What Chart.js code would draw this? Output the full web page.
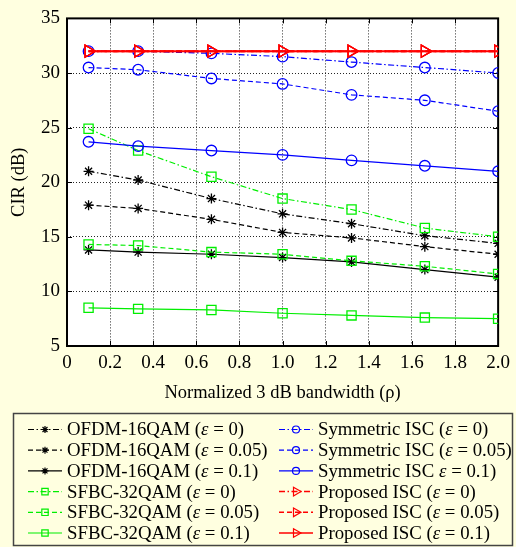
<!DOCTYPE html>
<html><head><meta charset="utf-8">
<script src="https://cdn.jsdelivr.net/npm/chart.js@4.4.1/dist/chart.umd.min.js"></script>
<style>html,body{margin:0;padding:0;background:#FFFFE0;}canvas{display:block;}</style>
</head><body>
<canvas id="c" width="516" height="547"></canvas>
<script>
// ---- data ----
const xValues = [0.1, 0.33, 0.67, 1.0, 1.32, 1.66, 2.0];
const xTickLabels = ['0','0.2','0.4','0.6','0.8','1.0','1.2','1.4','1.6','1.8','2.0'];
const yTickLabels = ['5','10','15','20','25','30','35'];
const xTitle = 'Normalized 3 dB bandwidth (ρ)';
const yTitle = 'CIR (dB)';

const ofdm0    = [21.0, 20.2, 18.5, 17.1, 16.2, 15.1, 14.4];
const ofdm005  = [17.9, 17.6, 16.6, 15.4, 14.9, 14.1, 13.4];
const ofdm01   = [13.8, 13.6, 13.4, 13.1, 12.7, 12.0, 11.3];
const sfbc0    = [24.9, 22.9, 20.5, 18.5, 17.5, 15.8, 15.0];
const sfbc005  = [14.3, 14.2, 13.6, 13.4, 12.8, 12.3, 11.6];
const sfbc01   = [8.5, 8.4, 8.3, 8.0, 7.8, 7.6, 7.5];
const sym0     = [32.0, 32.0, 31.8, 31.5, 31.0, 30.5, 30.0];
const sym005   = [30.5, 30.3, 29.5, 29.0, 28.0, 27.5, 26.5];
const sym01    = [23.7, 23.3, 22.9, 22.5, 22.0, 21.5, 21.0];
const prop0    = [32.0, 32.0, 32.0, 32.0, 32.0, 32.0, 32.0];
const prop005  = [32.0, 32.0, 32.0, 32.0, 32.0, 32.0, 32.0];
const prop01   = [32.0, 32.0, 32.0, 32.0, 32.0, 32.0, 32.0];

const seriesLabels = [
  'OFDM-16QAM (ε = 0)', 'OFDM-16QAM (ε = 0.05)', 'OFDM-16QAM (ε = 0.1)',
  'SFBC-32QAM (ε = 0)', 'SFBC-32QAM (ε = 0.05)', 'SFBC-32QAM (ε = 0.1)',
  'Symmetric ISC (ε = 0)', 'Symmetric ISC (ε = 0.05)', 'Symmetric ISC ε = 0.1)',
  'Proposed ISC (ε = 0)', 'Proposed ISC (ε = 0.05)', 'Proposed ISC (ε = 0.1)'
];
const seriesValues = [ofdm0, ofdm005, ofdm01, sfbc0, sfbc005, sfbc01, sym0, sym005, sym01, prop0, prop005, prop01];

// ---- styles ----
const FONT = '"Liberation Serif", "Times New Roman", serif';
const DASHDOT = [6, 2.5, 1.5, 2.5];
const DASHED = [5, 3];
const SOLID = [];
const styles = [
  {c:'#000000', d:DASHDOT, p:'star', r:5, w:1.2, o:3, lr:3.5},
  {c:'#000000', d:DASHED,  p:'star', r:5, w:1.2, o:3, lr:3.5},
  {c:'#000000', d:SOLID,   p:'star', r:5, w:1.2, o:3, lr:3.5},
  {c:'#00EE00', d:DASHDOT, p:'rect', r:6.5, w:1.2, o:2, lr:4.5},
  {c:'#00EE00', d:DASHED,  p:'rect', r:6.5, w:1.2, o:2, lr:4.5},
  {c:'#00EE00', d:SOLID,   p:'rect', r:6.5, w:1.2, o:2, lr:4.5},
  {c:'#0000FF', d:DASHDOT, p:'circle', r:5.3, w:1.2, o:1, lr:3.5},
  {c:'#0000FF', d:DASHED,  p:'circle', r:5.3, w:1.2, o:1, lr:3.5},
  {c:'#0000FF', d:SOLID,   p:'circle', r:5.3, w:1.3, o:1, lr:3.5},
  {c:'#FF0000', d:DASHDOT, p:'triangle', r:7, w:2, o:0, lr:5, rot:90},
  {c:'#FF0000', d:DASHED,  p:'triangle', r:7, w:2, o:0, lr:5, rot:90},
  {c:'#FF0000', d:SOLID,   p:'triangle', r:7, w:2, o:0, lr:5, rot:90}
];

const datasets = seriesValues.map((vals, i) => {
  const s = styles[i];
  return {
    label: seriesLabels[i],
    data: vals.map((v, j) => ({x: xValues[j], y: v})),
    borderColor: s.c,
    borderWidth: s.w,
    borderDash: s.d,
    pointStyle: s.p,
    pointRadius: s.r,
    pointRotation: s.rot || 0,
    pointBorderColor: s.c,
    pointBackgroundColor: 'rgba(0,0,0,0)',
    pointBorderWidth: 1.3,
    fill: false,
    tension: 0,
    order: s.o,
    legendRadius: s.lr
  };
});

function drawMarker(ctx, style, radius, rotation, x, y) {
  if (Chart.helpers && Chart.helpers.drawPoint) {
    Chart.helpers.drawPoint(ctx, {pointStyle: style, radius: radius, rotation: rotation, borderWidth: ctx.lineWidth}, x, y);
  }
}

const decorPlugin = {
  id: 'decor',
  beforeDraw(chart) {
    const ctx = chart.ctx, a = chart.chartArea;
    ctx.save();
    ctx.fillStyle = '#FFFFE0';
    ctx.fillRect(0, 0, chart.width, chart.height);
    ctx.fillStyle = '#FFFFFF';
    ctx.fillRect(a.left, a.top, a.right - a.left, a.bottom - a.top);
    ctx.restore();
  },
  beforeDatasetsDraw(chart) {
    const ctx = chart.ctx, a = chart.chartArea;
    const xs = chart.scales.x, ys = chart.scales.y;
    ctx.save();
    ctx.strokeStyle = '#000';
    ctx.lineWidth = 1;
    ctx.setLineDash([]);
    ctx.beginPath();
    xs.ticks.forEach(t => {
      const px = Math.round(xs.getPixelForValue(t.value)) + 0.5;
      ctx.moveTo(px, a.bottom); ctx.lineTo(px, a.bottom - 5);
      ctx.moveTo(px, a.top); ctx.lineTo(px, a.top + 5);
    });
    ys.ticks.forEach(t => {
      const py = Math.round(ys.getPixelForValue(t.value)) + 0.5;
      ctx.moveTo(a.left, py); ctx.lineTo(a.left + 5, py);
      ctx.moveTo(a.right, py); ctx.lineTo(a.right - 5, py);
    });
    ctx.stroke();
    ctx.lineWidth = 2;
    ctx.strokeRect(a.left, a.top, a.right - a.left, a.bottom - a.top);
    ctx.restore();
  },
  afterDraw(chart) {
    const ctx = chart.ctx;
    ctx.save();
    // legend frame
    ctx.strokeStyle = '#444';
    ctx.lineWidth = 1.5;
    ctx.setLineDash([]);
    ctx.strokeRect(13.5, 413.5, 499, 132);
    const cols = [{idx:[0,1,2,3,4,5], l:28, r:62, m:45, t:67}, {idx:[6,7,8,9,10,11], l:279, r:313, m:296, t:318}];
    const LFS = 18.8;
    cols.forEach(col => {
      col.idx.forEach((di, row) => {
        const ds = chart.data.datasets[di];
        const y = 429.5 + row * 20.7;
        ctx.strokeStyle = ds.borderColor;
        ctx.lineWidth = Math.min(ds.borderWidth, 1.5);
        ctx.setLineDash(ds.borderDash);
        ctx.beginPath(); ctx.moveTo(col.l, y); ctx.lineTo(col.r, y); ctx.stroke();
        ctx.setLineDash([]);
        ctx.lineWidth = 1.2;
        ctx.fillStyle = 'rgba(0,0,0,0)';
        drawMarker(ctx, ds.pointStyle, ds.legendRadius, ds.pointRotation, col.m, y);
        // text with italic epsilon
        ctx.fillStyle = '#000';
        ctx.textBaseline = 'middle';
        ctx.textAlign = 'left';
        const parts = ds.label.split('ε');
        let x = col.t;
        parts.forEach((p, k) => {
          ctx.font = LFS + 'px ' + FONT;
          ctx.fillText(p, x, y + 1);
          x += ctx.measureText(p).width;
          if (k < parts.length - 1) {
            ctx.font = 'italic ' + LFS + 'px ' + FONT;
            ctx.fillText('ε', x, y + 1);
            x += ctx.measureText('ε').width;
          }
        });
      });
    });
    ctx.restore();
  }
};

new Chart(document.getElementById('c'), {
  type: 'line',
  data: { datasets: datasets },
  options: {
    responsive: false,
    animation: false,
    events: [],
    layout: { padding: { left: 0, top: 15, right: 16, bottom: 141 } },
    plugins: { legend: { display: false }, tooltip: { enabled: false } },
    scales: {
      x: {
        type: 'linear', min: 0, max: 2,
        afterFit(s) { s.height = 60; },
        ticks: { stepSize: 0.2, color: '#000', padding: 6, maxRotation: 0, autoSkip: false,
          font: { family: FONT, size: 19 },
          callback: (v, i) => xTickLabels[i] },
        grid: { color: 'rgba(0,0,0,0.85)', lineWidth: 1, drawTicks: false },
        border: { display: false, dash: [1, 2] },
        title: { display: true, text: xTitle, color: '#000', font: { family: FONT, size: 18.5 }, padding: { top: 0, bottom: 2 } }
      },
      y: {
        type: 'linear', min: 5, max: 35,
        afterFit(s) { s.width = 67; },
        ticks: { stepSize: 5, color: '#000', padding: 7,
          font: { family: FONT, size: 19 },
          callback: (v, i) => yTickLabels[i] },
        grid: { color: 'rgba(0,0,0,0.85)', lineWidth: 1, drawTicks: false },
        border: { display: false, dash: [1, 2] },
        title: { display: true, text: yTitle, color: '#000', font: { family: FONT, size: 18.5 }, padding: { top: 8, bottom: 0 } }
      }
    }
  },
  plugins: [decorPlugin]
});
</script>
</body></html>
